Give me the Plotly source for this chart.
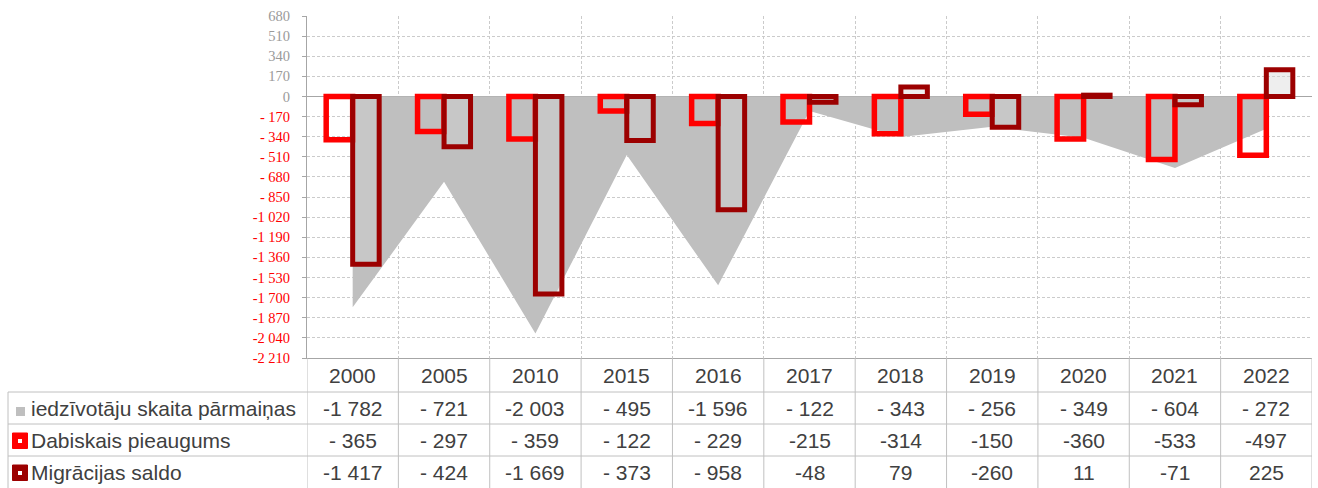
import plotly.graph_objects as go

years = ["2000", "2005", "2010", "2015", "2016", "2017", "2018", "2019", "2020", "2021", "2022"]
total_change = [-1782, -721, -2003, -495, -1596, -122, -343, -256, -349, -604, -272]
natural_growth = [-365, -297, -359, -122, -229, -215, -314, -150, -360, -533, -497]
migration = [-1417, -424, -1669, -373, -958, -48, 79, -260, 11, -71, 225]

total_labels = ["-1 782", "- 721", "-2 003", "- 495", "-1 596", "- 122", "- 343", "- 256", "- 349", "- 604", "- 272"]
natural_labels = ["- 365", "- 297", "- 359", "- 122", "- 229", "-215", "-314", "-150", "-360", "-533", "-497"]
migration_labels = ["-1 417", "- 424", "-1 669", "- 373", "- 958", "-48", "79", "-260", "11", "-71", "225"]

series_names = ["iedzīvotāju skaita pārmaiņas", "Dabiskais pieaugums", "Migrācijas saldo"]

y_tickvals = [680, 510, 340, 170, 0, -170, -340, -510, -680, -850, -1020, -1190,
              -1360, -1530, -1700, -1870, -2040, -2210]
y_ticklabels = ["680", "510", "340", "170", "0", "- 170", "- 340", "- 510", "- 680", "- 850",
                "-1 020", "-1 190", "-1 360", "-1 530", "-1 700", "-1 870", "-2 040", "-2 210"]

W, H = 1318, 488
ML, MR, MT, MB = 8, 6, 16, 0
PW, PH = W - ML - MR, H - MT - MB
PLOT_LEFT, PLOT_BOTTOM = 307, 358
ROW_EDGES = [358, 392, 424, 456, 488]   # table row boundaries (px)


def fx(px):
    return (px - ML) / PW


def fy(py):
    return (H - MB - py) / PH


idx = list(range(len(years)))
RED = "#ff0000"
DARK = "#9c0000"
GRID = "#cbcbcb"
AXIS = "#a6a6a6"
TLINE = "#c0c0c0"
TXT = "#404040"
TFONT = dict(family="Arial, Liberation Sans", size=21, color=TXT)

fig = go.Figure()

# area (base axes, drawn below bars)
fig.add_trace(go.Scatter(
    x=idx, y=total_change, mode="none", fill="tozeroy", fillcolor="#bfbfbf",
    name=series_names[0], xaxis="x", yaxis="y", hoverinfo="skip", showlegend=False))

# bars (overlay axes, drawn above area)
fig.add_trace(go.Bar(
    x=idx, y=natural_growth, name=series_names[1], xaxis="x2", yaxis="y2",
    marker=dict(color="rgba(0,0,0,0)", line=dict(color=RED, width=5.5)), showlegend=False))
fig.add_trace(go.Bar(
    x=idx, y=migration, name=series_names[2], xaxis="x2", yaxis="y2",
    marker=dict(color="rgba(212,212,212,0.4)", line=dict(color=DARK, width=5)), showlegend=False))

ticktext = []
for v, t in zip(y_tickvals, y_ticklabels):
    c = "#9a9a9a" if v >= 0 else RED
    ticktext.append(f"<span style='color:{c}'>{t}</span>")

xdom = [fx(PLOT_LEFT), 1]
ydom = [fy(PLOT_BOTTOM), 1]
xgrid = [i - 0.5 for i in range(len(years) + 1)]

fig.update_layout(
    width=W, height=H,
    margin=dict(l=ML, r=MR, t=MT, b=MB, pad=0, autoexpand=False),
    paper_bgcolor="white", plot_bgcolor="white",
    barmode="group", bargap=0.42, bargroupgap=0,
    showlegend=False,
    xaxis=dict(domain=xdom, range=[-0.5, len(years) - 0.5], tickmode="array", tickvals=xgrid,
               showticklabels=False, ticks="", showgrid=True, gridcolor=GRID, griddash="3px,2px",
               gridwidth=1, showline=True, linecolor=AXIS, linewidth=1, zeroline=False,
               fixedrange=True, automargin=False),
    yaxis=dict(domain=ydom, range=[-2210, 680], tickmode="array", tickvals=y_tickvals, ticktext=ticktext,
               tickfont=dict(family="Times New Roman, Liberation Serif", size=14.5, color="#9a9a9a"),
               ticks="outside", ticklen=4, tickcolor=AXIS, ticklabelstandoff=9,
               showgrid=True, gridcolor=GRID, griddash="3px,2px", gridwidth=1,
               showline=True, linecolor=AXIS, linewidth=1,
               zeroline=True, zerolinecolor=AXIS, zerolinewidth=1, fixedrange=True, automargin=False),
    xaxis2=dict(domain=xdom, overlaying="x", matches="x", visible=False, automargin=False),
    yaxis2=dict(domain=ydom, overlaying="y", matches="y", visible=False, automargin=False),
)

# ---- data table under the chart (text placed on the category axis) ----
annotations = []
row_centers = [(ROW_EDGES[k] + ROW_EDGES[k + 1]) / 2 for k in range(4)]
rows = [years, total_labels, natural_labels, migration_labels]
for r, labels in enumerate(rows):
    for i, lab in zip(idx, labels):
        annotations.append(dict(x=i, y=fy(row_centers[r]), xref="x", yref="paper", text=lab,
                                showarrow=False, xanchor="center", yanchor="middle", font=TFONT))
for r, name in enumerate(series_names):
    annotations.append(dict(x=fx(29), y=fy(row_centers[r + 1]), xref="paper", yref="paper",
                            text=name, showarrow=False, xanchor="left", yanchor="middle", font=TFONT))

shapes = []
# horizontal table lines
for py in ROW_EDGES[1:4]:
    shapes.append(dict(type="line", xref="paper", yref="paper", x0=0, x1=1, y0=fy(py), y1=fy(py),
                       line=dict(color=TLINE, width=1)))
# left border of the table
shapes.append(dict(type="line", xref="paper", yref="paper", x0=0, x1=0, y0=0, y1=fy(ROW_EDGES[1]),
                   line=dict(color=TLINE, width=1)))
# column separators along category boundaries
for xb in xgrid:
    shapes.append(dict(type="line", xref="x", yref="paper", x0=xb, x1=xb, y0=0, y1=fy(PLOT_BOTTOM),
                       line=dict(color=TLINE, width=1)))

# legend keys in the first column
shapes.append(dict(type="rect", xref="paper", yref="paper", x0=fx(16), x1=fx(25), y0=fy(416), y1=fy(407),
                   fillcolor="#bfbfbf", line=dict(width=0)))
for top, col in [(433, RED), (465, DARK)]:
    shapes.append(dict(type="rect", xref="paper", yref="paper", x0=fx(12.5), x1=fx(27.5),
                       y0=fy(top + 15.5), y1=fy(top), fillcolor=col, line=dict(color=col, width=1)))
    shapes.append(dict(type="rect", xref="paper", yref="paper", x0=fx(18), x1=fx(22),
                       y0=fy(top + 10), y1=fy(top + 6), fillcolor="white", line=dict(width=0)))

fig.update_layout(shapes=shapes, annotations=annotations)

fig.write_html("out.html", config={"displayModeBar": False},
               post_script="document.body.style.margin='0';")
